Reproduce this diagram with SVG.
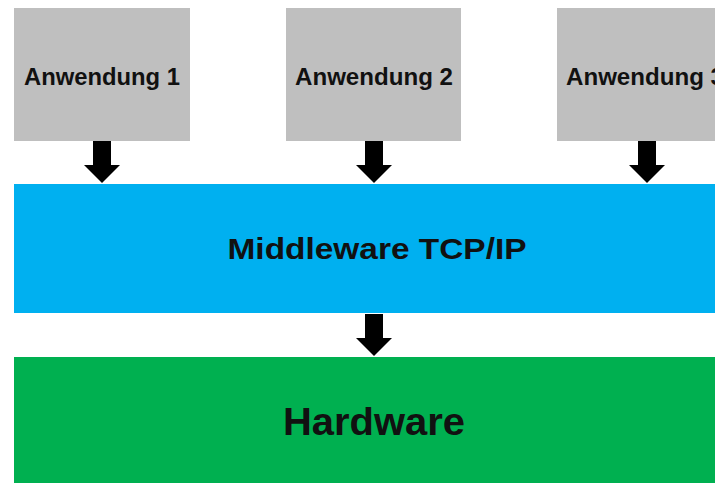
<svg xmlns="http://www.w3.org/2000/svg" width="715" height="483" viewBox="0 0 715 483">
  <style>
    .app { fill: #bfbfbf; }
    .mw { fill: #00b0f0; }
    .hw { fill: #00b050; }
    .lbl { font-family: "Liberation Sans", Arial, sans-serif; font-weight: bold; fill: #111; text-anchor: middle; }
    .arrow { fill: #000; }
  </style>
  <defs>
    <!-- block arrow pointing down, tip at origin -->
    <path id="down" d="M-9,-42 H9 V-18 H18 L0,0 L-18,-18 H-9 Z"/>
  </defs>
  <rect width="715" height="483" fill="#ffffff"/>

  <g id="app1">
    <rect class="app" x="14" y="8" width="176" height="133"/>
    <text class="lbl" x="102" y="85" font-size="23" textLength="156" lengthAdjust="spacingAndGlyphs">Anwendung 1</text>
  </g>
  <g id="app2">
    <rect class="app" x="286" y="8" width="175" height="133"/>
    <text class="lbl" x="374" y="85" font-size="23" textLength="158" lengthAdjust="spacingAndGlyphs">Anwendung 2</text>
  </g>
  <g id="app3">
    <rect class="app" x="557" y="8" width="176" height="133"/>
    <text class="lbl" x="645" y="85" font-size="23" textLength="158" lengthAdjust="spacingAndGlyphs">Anwendung 3</text>
  </g>

  <g id="middleware">
    <rect class="mw" x="14" y="184" width="701" height="129"/>
    <text class="lbl" x="377" y="259" font-size="30" textLength="299" lengthAdjust="spacingAndGlyphs">Middleware TCP/IP</text>
  </g>

  <g id="hardware">
    <rect class="hw" x="14" y="357" width="701" height="126"/>
    <text class="lbl" x="374" y="435" font-size="38" textLength="182" lengthAdjust="spacingAndGlyphs">Hardware</text>
  </g>

  <g id="connectors" class="arrow">
    <use href="#down" x="102" y="183"/>
    <use href="#down" x="374" y="183"/>
    <use href="#down" x="647" y="183"/>
    <use href="#down" x="374" y="356"/>
  </g>
</svg>
